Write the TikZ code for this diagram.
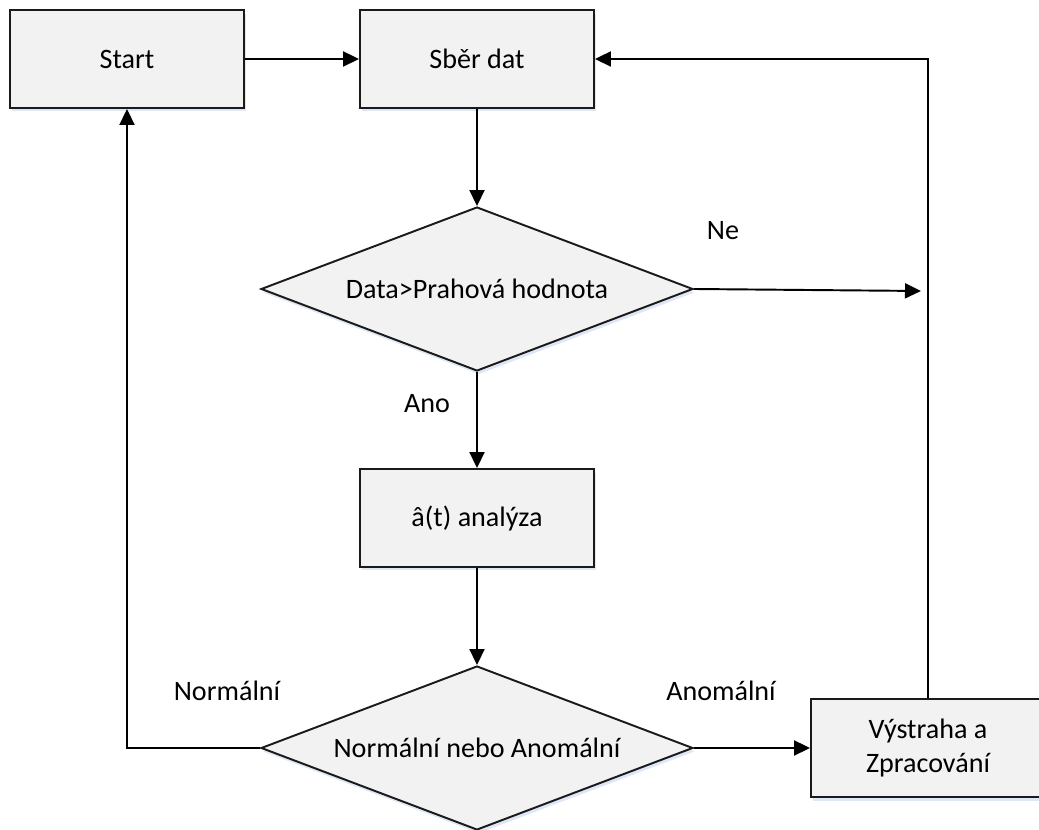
\documentclass[tikz,border=0pt]{standalone}
\usepackage{fontspec}
\setmainfont{Carlito}
\usetikzlibrary{arrows.meta, shapes.geometric, shadows}
\definecolor{boxFill}{RGB}{242,242,242}
\definecolor{boxLine}{RGB}{26,26,26}
\definecolor{glow}{RGB}{200,215,238}

\begin{document}
\begin{tikzpicture}[
  x=0.02cm, y=-0.02cm,
  every node/.style={font=\fontsize{16}{19.3}\selectfont},
  softshadow/.style={drop shadow={fill=glow, opacity=0.6, shadow xshift=1pt, shadow yshift=-2pt}},
  box/.style={draw=boxLine, line width=1.1pt, fill=boxFill, align=center, softshadow,
              minimum width=4.68cm, minimum height=1.96cm, inner sep=0pt},
  decision/.style={diamond, draw=boxLine, line width=1.1pt, fill=boxFill, aspect=2.63, softshadow,
              minimum width=8.64cm, minimum height=3.28cm, inner sep=0pt},
  arrow/.style={-{Triangle[length=0.32cm, width=0.3cm]}, line width=1.1pt}
]
\useasboundingbox (0,0) rectangle (1039,830);

\node[box] (start) at (127,59) {Start};
\node[box] (sber) at (477,59) {Sběr dat};
\node[decision] (prah) at (477,289) {Data>Prahová hodnota};
\node[box] (analyza) at (477,518) {â(t) analýza};
\node[decision] (typ) at (477,748) {Normální nebo Anomální};
\node[box] (vystraha) at (928,748) {Výstraha a\\Zpracování};

\node (ne) at (723,231) {Ne};
\node (ano) at (427,404) {Ano};
\node (normal) at (227,691) {Normální};
\node (anomal) at (721,691) {Anomální};

\coordinate (neEnd) at (921,291);

\draw[arrow] (start) -- (sber);
\draw[arrow] (sber) -- (prah);
\draw[arrow] (prah.east) -- (neEnd);
\draw[arrow] (prah) -- (analyza);
\draw[arrow] (analyza) -- (typ);
\draw[arrow] (typ.west) -| (start.south);
\draw[arrow] (typ.east) -- (vystraha.west);
\draw[arrow] (vystraha.north) |- (sber.east);
\end{tikzpicture}
\end{document}
